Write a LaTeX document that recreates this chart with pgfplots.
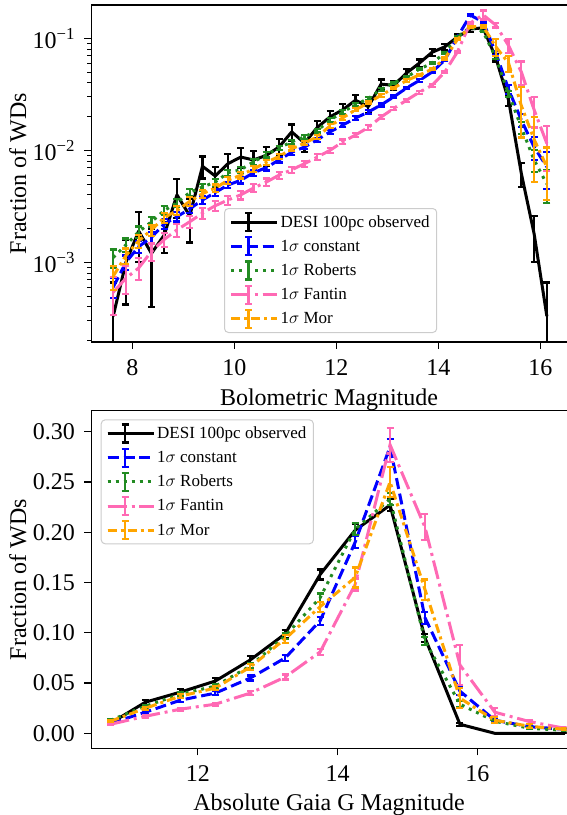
\documentclass[border=0pt]{standalone}
\usepackage{fontspec}
\setmainfont{Liberation Serif}
\usepackage{pgfplots}
\pgfplotsset{compat=1.18}
\definecolor{cblue}{RGB}{0,0,255}
\definecolor{cgreen}{RGB}{34,139,34}
\definecolor{cpink}{RGB}{255,105,180}
\definecolor{corange}{RGB}{255,165,0}
\pgfplotsset{
  base/.style={
    scale only axis, width=475pt,
    separate axis lines,
    axis x line*=box, axis y line*=left,
    axis line style={line width=1.3pt},
    tick align=outside, xtick pos=left, ytick pos=left,
    major tick length=7pt, minor tick length=4pt,
    major tick style={line width=1.2pt, black},
    minor tick style={line width=0.9pt, black},
    tick label style={font=\fontsize{24}{28}\selectfont},
    xticklabel style={yshift=-7pt},
    yticklabel style={xshift=-6pt},
    label style={font=\fontsize{24}{28}\selectfont},
    /pgf/number format/assume math mode=true,
    ylabel={Fraction of WDs},
    ylabel style={at={(axis description cs:-0.155,0.5)}, anchor=center},
    error bars/y dir=both, error bars/y explicit,
    error bars/error mark=-,
    error bars/error bar style={solid, line width=2.2pt},
    error bars/error mark options={rotate=90, solid, line width=2.2pt, mark size=3.5pt},
    legend cell align=left,
    legend style={draw=black!20, line width=1pt, rounded corners=4pt, fill=white,
      font=\fontsize{17}{20}\selectfont, inner xsep=5pt, inner ysep=3.5pt, row sep=4pt},
    legend image code/.code={
      \draw[##1, line join=round] (0pt,0pt) -- (35pt,0pt);
      \draw[##1, solid, line width=2.2pt] (17.5pt,-9pt) -- (17.5pt,9pt) (14pt,-9pt) -- (21pt,-9pt) (14pt,9pt) -- (21pt,9pt);
      \path (0pt,0pt) -- (46pt,0pt);
    },
  },
  sblack/.style={black, solid, line width=3pt, line join=round},
  sblue/.style={cblue, line width=3pt, dash pattern=on 11pt off 4.8pt},
  sgreen/.style={cgreen, line width=3pt, dash pattern=on 3pt off 5pt},
  spink/.style={cpink, line width=3pt, dash pattern=on 19pt off 4.8pt on 3pt off 4.8pt},
  sorange/.style={corange, line width=3pt, dash pattern=on 9pt off 4pt on 3pt off 4pt},
}
\begin{document}
\begin{tikzpicture}
\begin{axis}[base, at={(0,0)}, anchor=north west, height=337pt,
  xmin=7.2, xmax=16.51, ymode=log, ymin=1.942e-4, ymax=0.1983,
  xtick={8,10,12,14,16},
  ytick={1e-3,1e-2,1e-1},
  yticklabels={10\textsuperscript{−3},10\textsuperscript{−2},10\textsuperscript{−1}},
  minor ytick={2e-4,3e-4,4e-4,5e-4,6e-4,7e-4,8e-4,9e-4,2e-3,3e-3,4e-3,5e-3,6e-3,7e-3,8e-3,9e-3,2e-2,3e-2,4e-2,5e-2,6e-2,7e-2,8e-2,9e-2},
  xlabel={Bolometric Magnitude},
  xlabel style={at={(axis description cs:0.5,-0.187)}, anchor=base},
  legend style={at={(0.279,0.3976)}, anchor=north west},
]
\addplot[sblack] table[x=x,y=y,y error plus=ep,y error minus=em] {
x y ep em
7.625 3.3e-4 3.3e-4 3.25e-4
7.875 1.0e-3 5.8e-4 5.8e-4
8.125 1.9e-3 9.0e-4 9.0e-4
8.375 1.2e-3 8.0e-4 8.0e-4
8.625 1.75e-3 5.4e-4 5.4e-4
8.875 4.0e-3 1.5e-3 1.5e-3
9.125 2.6e-3 1.1e-3 1.1e-3
9.375 7.2e-3 1.6e-3 1.6e-3
9.625 5.9e-3 1.2e-3 1.2e-3
9.875 7.6e-3 1.7e-3 1.7e-3
10.125 8.7e-3 1.7e-3 1.7e-3
10.375 8.2e-3 1.6e-3 1.6e-3
10.625 9.0e-3 1.7e-3 1.7e-3
10.875 1.07e-2 1.9e-3 1.9e-3
11.125 1.46e-2 2.4e-3 2.4e-3
11.375 1.16e-2 2.0e-3 2.0e-3
11.625 1.6e-2 2.4e-3 2.4e-3
11.875 1.99e-2 2.7e-3 2.7e-3
12.125 2.3e-2 2.9e-3 2.9e-3
12.375 2.8e-2 3.2e-3 3.2e-3
12.625 2.45e-2 3.0e-3 3.0e-3
12.875 3.9e-2 3.8e-3 3.8e-3
13.125 3.8e-2 3.7e-3 3.7e-3
13.375 4.9e-2 4.2e-3 4.2e-3
13.625 6.0e-2 4.7e-3 4.7e-3
13.875 7.5e-2 5.2e-3 5.2e-3
14.125 8.4e-2 5.5e-3 5.5e-3
14.375 0.103 6.1e-3 6.1e-3
14.625 0.121 6.6e-3 6.6e-3
14.875 0.124 6.7e-3 6.7e-3
15.125 6.7e-2 4.9e-3 4.9e-3
15.375 2.8e-2 3.2e-3 3.2e-3
15.625 6.2e-3 1.5e-3 1.5e-3
15.875 1.8e-3 8.0e-4 8.0e-4
16.125 3.3e-4 3.3e-4 3.25e-4
};
\addlegendentry{DESI 100pc observed}
\addplot[sblue] table[x=x,y=y,y error=e] {
x y e
7.625 6.0e-4 1.2e-4
7.875 1.0e-3 1.5e-4
8.125 1.38e-3 1.7e-4
8.375 1.67e-3 1.9e-4
8.625 2.2e-3 2.2e-4
8.875 2.55e-3 2.4e-4
9.125 3.0e-3 2.6e-4
9.375 3.6e-3 2.8e-4
9.625 4.2e-3 3.0e-4
9.875 4.9e-3 3.3e-4
10.125 5.4e-3 3.5e-4
10.375 6.3e-3 3.8e-4
10.625 7.0e-3 4e-4
10.875 8.2e-3 4.3e-4
11.125 9.6e-3 4.6e-4
11.375 1.07e-2 5e-4
11.625 1.24e-2 5.4e-4
11.875 1.46e-2 6e-4
12.125 1.68e-2 6.5e-4
12.375 1.94e-2 7e-4
12.625 2.2e-2 7.5e-4
12.875 2.54e-2 8e-4
13.125 3.0e-2 9e-4
13.375 3.6e-2 1e-3
13.625 4.2e-2 1.1e-3
13.875 5.0e-2 1.2e-3
14.125 6.4e-2 1.4e-3
14.375 0.103 1.8e-3
14.625 0.161 2.3e-3
14.875 0.14 2.1e-3
15.125 7.4e-2 3e-3
15.375 3.5e-2 3e-3
15.625 1.86e-2 2.5e-3
15.875 1.07e-2 2.5e-3
16.125 7.1e-3 2.6e-3
};
\addlegendentry{1$\sigma$ constant}
\addplot[sgreen] table[x=x,y=y,y error=e] {
x y e
7.625 1.1e-3 2e-4
7.875 1.43e-3 2e-4
8.125 1.87e-3 2.2e-4
8.375 2.3e-3 2.4e-4
8.625 2.9e-3 2.7e-4
8.875 3.4e-3 3e-4
9.125 4.2e-3 3.2e-4
9.375 4.7e-3 3.4e-4
9.625 5.2e-3 3.6e-4
9.875 6.3e-3 4e-4
10.125 6.7e-3 4.1e-4
10.375 7.9e-3 4.5e-4
10.625 9.1e-3 4.8e-4
10.875 1.05e-2 5e-4
11.125 1.19e-2 5.4e-4
11.375 1.32e-2 5.7e-4
11.625 1.5e-2 6e-4
11.875 1.86e-2 7e-4
12.125 2.2e-2 7.5e-4
12.375 2.55e-2 8e-4
12.625 2.9e-2 8.5e-4
12.875 3.5e-2 9.5e-4
13.125 4.0e-2 1e-3
13.375 4.5e-2 1.1e-3
13.625 5.3e-2 1.2e-3
13.875 6.0e-2 1.3e-3
14.125 7.4e-2 1.5e-3
14.375 0.103 1.8e-3
14.625 0.126 2e-3
14.875 0.115 2e-3
15.125 6.7e-2 2e-3
15.375 3.2e-2 2e-3
15.625 1.6e-2 2e-3
15.875 8.2e-3 1.8e-3
16.125 5.0e-3 1.6e-3
};
\addlegendentry{1$\sigma$ Roberts}
\addplot[spink] table[x=x,y=y,y error=e] {
x y e
7.625 5.4e-4 2.0e-4
7.875 7.2e-4 2.0e-4
8.125 8.9e-4 2.0e-4
8.375 1.25e-3 2.2e-4
8.625 1.6e-3 2.4e-4
8.875 1.95e-3 2.6e-4
9.125 2.3e-3 2.8e-4
9.375 2.75e-3 3e-4
9.625 3.2e-3 3.2e-4
9.875 3.6e-3 3.4e-4
10.125 4.0e-3 3.6e-4
10.375 4.6e-3 3.8e-4
10.625 5.2e-3 4e-4
10.875 6.0e-3 4.3e-4
11.125 6.7e-3 4.5e-4
11.375 7.6e-3 4.8e-4
11.625 8.7e-3 5.2e-4
11.875 1.0e-2 5.5e-4
12.125 1.19e-2 6e-4
12.375 1.37e-2 6.5e-4
12.625 1.6e-2 7e-4
12.875 1.98e-2 8e-4
13.125 2.37e-2 8.5e-4
13.375 2.8e-2 9e-4
13.625 3.3e-2 1e-3
13.875 3.8e-2 1.1e-3
14.125 5.0e-2 1.3e-3
14.375 7.6e-2 1.6e-3
14.625 0.137 2.5e-3
14.875 0.162 1.5e-2
15.125 0.131 6e-3
15.375 8.6e-2 1.2e-2
15.625 5.0e-2 1.2e-2
15.875 2.3e-2 7e-3
16.125 1.15e-2 5e-3
};
\addlegendentry{1$\sigma$ Fantin}
\addplot[sorange] table[x=x,y=y,y error=e] {
x y e
7.625 7.5e-4 1.8e-4
7.875 1.15e-3 1.8e-4
8.125 1.55e-3 2e-4
8.375 1.95e-3 2.2e-4
8.625 2.5e-3 2.5e-4
8.875 2.9e-3 2.7e-4
9.125 3.5e-3 3e-4
9.375 4.1e-3 3.2e-4
9.625 4.6e-3 3.4e-4
9.875 5.4e-3 3.7e-4
10.125 6.0e-3 4e-4
10.375 6.8e-3 4.2e-4
10.625 7.8e-3 4.5e-4
10.875 8.8e-3 4.7e-4
11.125 1.03e-2 5e-4
11.375 1.16e-2 5.3e-4
11.625 1.32e-2 5.7e-4
11.875 1.65e-2 6.5e-4
12.125 1.95e-2 7e-4
12.375 2.3e-2 7.5e-4
12.625 2.65e-2 8e-4
12.875 3.1e-2 9e-4
13.125 3.6e-2 1e-3
13.375 4.2e-2 1.1e-3
13.625 4.7e-2 1.2e-3
13.875 5.3e-2 1.3e-3
14.125 6.6e-2 1.5e-3
14.375 0.098 1.8e-3
14.625 0.127 2.5e-3
14.875 0.128 3e-3
15.125 8.4e-2 1.5e-2
15.375 6.0e-2 1.0e-2
15.625 2.5e-2 1.2e-2
15.875 1.25e-2 7.3e-3
16.125 7.1e-3 3.5e-3
};
\addlegendentry{1$\sigma$ Mor}
\end{axis}

\begin{axis}[base, at={(0,-405.7pt)}, anchor=north west, height=337.6pt,
  xmin=10.478, xmax=17.275, ymin=-0.0149, ymax=0.3209,
  xtick={12,14,16},
  ytick={0,0.05,0.10,0.15,0.20,0.25,0.30},
  yticklabel style={/pgf/number format/.cd, fixed, fixed zerofill, precision=2},
  xlabel={Absolute Gaia G Magnitude},
  xlabel style={at={(axis description cs:0.5,-0.1830)}, anchor=base},
  legend style={at={(0.0194,0.9745)}, anchor=north west},
]
\addplot[sblack] table[x=x,y=y,y error=e] {
x y e
10.75 0.010 0.0015
11.25 0.031 0.0025
11.75 0.041 0.003
12.25 0.052 0.0032
12.75 0.073 0.004
13.25 0.099 0.004
13.75 0.158 0.005
14.25 0.202 0.006
14.75 0.227 0.006
15.25 0.095 0.004
15.75 0.009 0.0014
16.25 0.0 0.0
16.75 0.0 0.0
17.25 0.0 0.0
};
\addlegendentry{DESI 100pc observed}
\addplot[sblue] table[x=x,y=y,y error=e] {
x y e
10.75 0.010 0.001
11.25 0.021 0.0015
11.75 0.033 0.002
12.25 0.040 0.002
12.75 0.055 0.0025
13.25 0.075 0.003
13.75 0.112 0.004
14.25 0.190 0.006
14.75 0.285 0.008
15.25 0.115 0.006
15.75 0.042 0.004
16.25 0.013 0.002
16.75 0.0066 0.0015
17.25 0.004 0.001
};
\addlegendentry{1$\sigma$ constant}
\addplot[sgreen] table[x=x,y=y,y error=e] {
x y e
10.75 0.013 0.001
11.25 0.027 0.0015
11.75 0.039 0.002
12.25 0.047 0.002
12.75 0.067 0.0025
13.25 0.097 0.003
13.75 0.135 0.004
14.25 0.203 0.006
14.75 0.233 0.006
15.25 0.092 0.004
15.75 0.029 0.003
16.25 0.012 0.0015
16.75 0.005 0.001
17.25 0.003 0.001
};
\addlegendentry{1$\sigma$ Roberts}
\addplot[spink] table[x=x,y=y,y error=e] {
x y e
10.75 0.009 0.001
11.25 0.017 0.0013
11.75 0.024 0.0015
12.25 0.029 0.0015
12.75 0.040 0.002
13.25 0.056 0.0025
13.75 0.081 0.003
14.25 0.148 0.006
14.75 0.287 0.017
15.25 0.205 0.013
15.75 0.068 0.02
16.25 0.021 0.004
16.75 0.0116 0.002
17.25 0.005 0.0015
};
\addlegendentry{1$\sigma$ Fantin}
\addplot[sorange] table[x=x,y=y,y error=e] {
x y e
10.75 0.012 0.001
11.25 0.025 0.0015
11.75 0.037 0.002
12.25 0.045 0.002
12.75 0.066 0.003
13.25 0.094 0.004
13.75 0.126 0.005
14.25 0.155 0.01
14.75 0.250 0.015
15.25 0.143 0.01
15.75 0.035 0.01
16.25 0.013 0.003
16.75 0.007 0.002
17.25 0.004 0.001
};
\addlegendentry{1$\sigma$ Mor}
\end{axis}
\pgfresetboundingbox
\path[use as bounding box] (-91.5pt,5pt) rectangle (474.5pt,-810pt);
\end{tikzpicture}
\end{document}
